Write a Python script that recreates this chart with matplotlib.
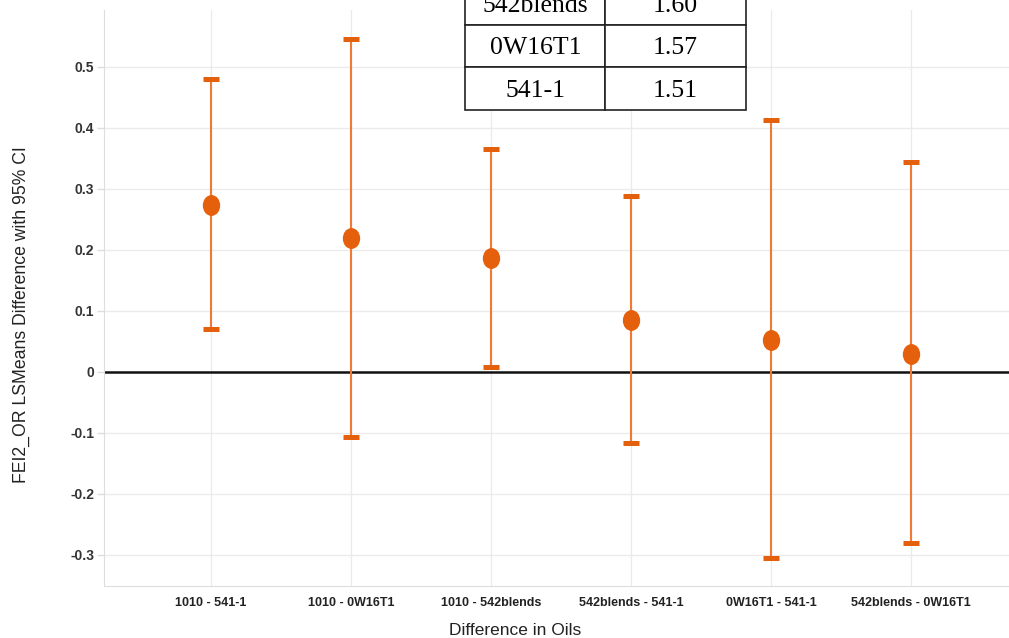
import matplotlib.pyplot as plt
import numpy as np
from matplotlib.path import Path
from matplotlib.transforms import Affine2D

pairs = ['1010 - 541-1', '1010 - 0W16T1', '1010 - 542blends',
         '542blends - 541-1', '0W16T1 - 541-1', '542blends - 0W16T1']
diff = [0.274, 0.220, 0.187, 0.085, 0.052, 0.030]
upper = [0.480, 0.546, 0.366, 0.289, 0.413, 0.344]
lower = [0.071, -0.106, 0.008, -0.116, -0.305, -0.280]

oils = ['542blends', '0W16T1', '541-1']
means = ['1.60', '1.57', '1.51']

orange = '#E4600C'
sans = ['Liberation Sans', 'DejaVu Sans']
narrow = ['Liberation Sans Narrow', 'Liberation Sans', 'DejaVu Sans']
x = np.arange(len(pairs))

fig = plt.figure(figsize=(10.09, 6.38), dpi=100)
ax = fig.add_axes([0.103, 0.0815, 0.897, 0.9025])

# error bars with flat rectangular caps
for xi, lo, hi in zip(x, lower, upper):
    ax.plot([xi, xi], [lo, hi], color='#EE7A34', lw=1.5, zorder=3)
    ax.plot([xi, xi], [lo, hi], ls='none', marker='_', ms=11.5, mew=3.6,
            color=orange, zorder=4)

oval = Path.unit_circle().transformed(Affine2D().scale(0.82, 1.0))
ax.plot(x, diff, ls='none', marker=oval, ms=14, color=orange, mec=orange, zorder=5)

ax.axhline(0, color='#111111', lw=1.8, zorder=2)

ax.set_xlim(-0.764, 5.70)
ax.set_ylim(-0.351, 0.593)
ax.set_xticks(x)
ax.set_xticklabels(pairs, fontsize=9, fontweight='bold', color='#222222',
                   family=narrow)
ax.set_yticks(np.arange(-0.3, 0.51, 0.1))
ax.set_yticklabels(['-0.3', '-0.2', '-0.1', '0', '0.1', '0.2', '0.3', '0.4', '0.5'],
                   fontsize=10, fontweight='bold', color='#333333', family=sans)
ax.tick_params(axis='y', length=5, width=1, color='#DDDDDD', pad=2)
ax.tick_params(axis='x', length=0, pad=8)
ax.grid(True, color='#EBEBEB', lw=1)
ax.set_axisbelow(True)
for side in ['top', 'right']:
    ax.spines[side].set_visible(False)
for side in ['left', 'bottom']:
    ax.spines[side].set_color('#DDDDDD')

ax.set_xlabel('Difference in Oils', fontsize=12.5, color='#222222', family=sans)
ax.xaxis.set_label_coords(0.454, -0.064)
ax.set_ylabel('FEI2_OR LSMeans Difference with 95% CI', fontsize=12.7,
              color='#222222', family=sans)
ax.yaxis.set_label_coords(-0.082, 0.472)

# means table at the top
tab = fig.add_axes([0.461, 0.828, 0.278, 0.200])
tab.axis('off')
t = tab.table(cellText=[[o, m] for o, m in zip(oils, means)],
              cellLoc='center', bbox=[0, 0, 1, 1])
t.auto_set_font_size(False)
for (r, c), cell in t.get_celld().items():
    cell.set_edgecolor('#222222')
    cell.set_linewidth(1.2)
    cell.get_text().set_fontfamily('Liberation Serif')
    cell.get_text().set_fontsize(18.5)
    cell.get_text().set_verticalalignment('center_baseline')

fig.savefig('out.png', dpi=100)
